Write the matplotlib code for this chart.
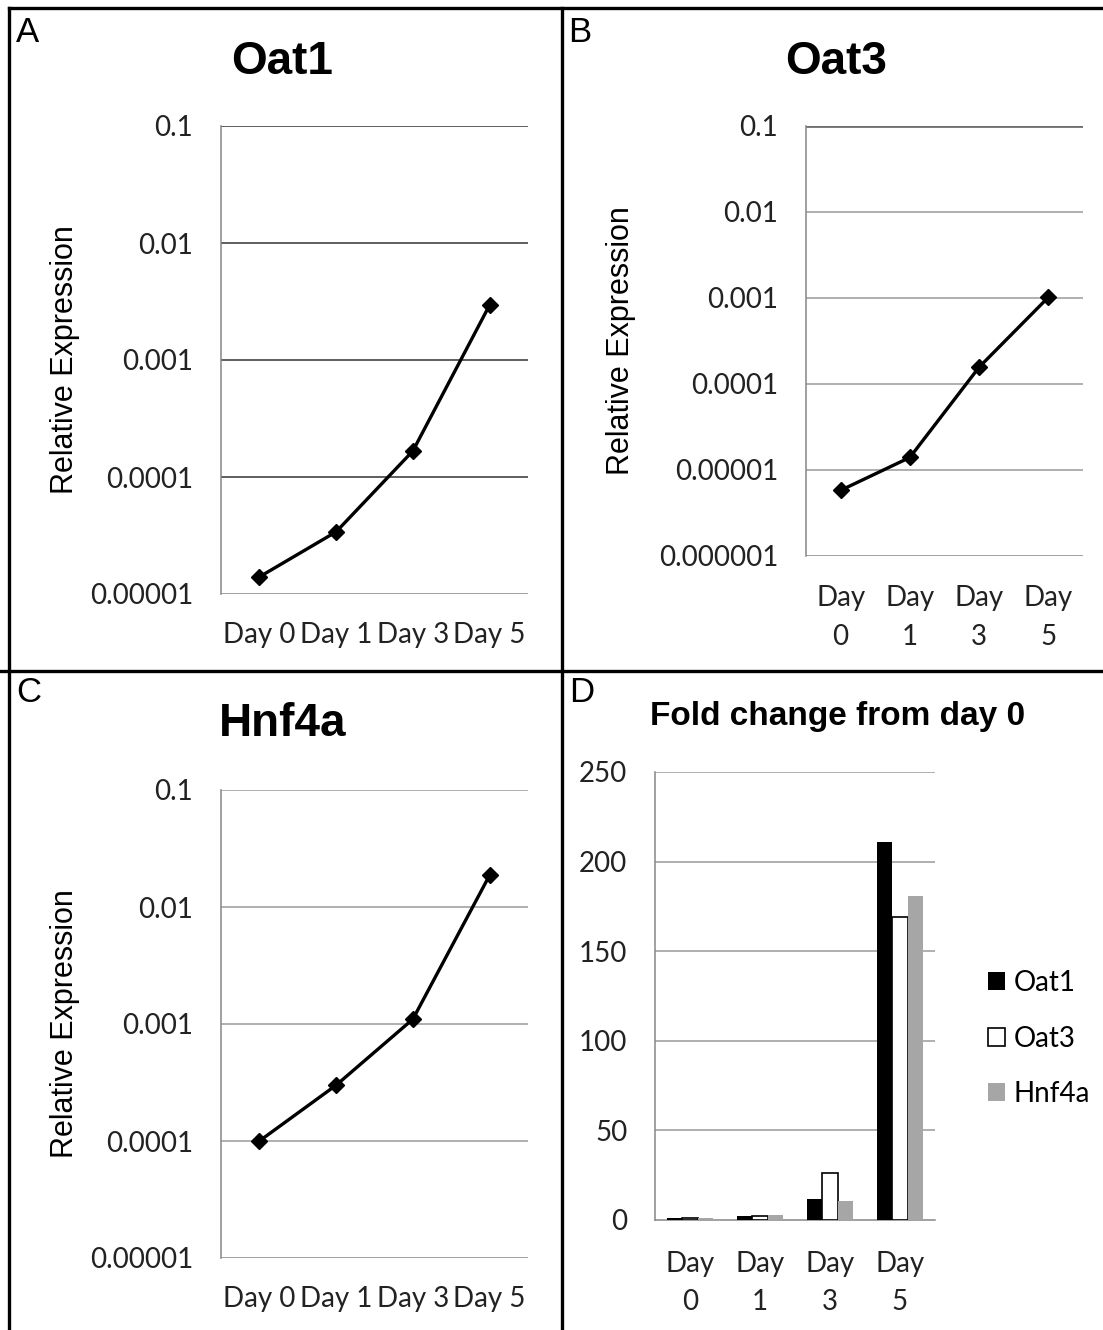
import matplotlib
matplotlib.use("Agg")
import matplotlib.pyplot as plt
from matplotlib.lines import Line2D

W, H = 1103, 1330

days = ["Day 0", "Day 1", "Day 3", "Day 5"]
days_two_line = ["Day\n0", "Day\n1", "Day\n3", "Day\n5"]

oat1 = [1.4e-5, 3.4e-5, 1.67e-4, 2.95e-3]
oat3 = [5.8e-6, 1.4e-5, 1.57e-4, 1.02e-3]
hnf4a = [1.0e-4, 3.0e-4, 1.1e-3, 1.87e-2]

fold_oat1 = [1.0, 2.4, 11.5, 211]
fold_oat3 = [1.0, 2.1, 26.5, 169]
fold_hnf4a = [1.0, 2.6, 10.5, 181]

ticks_5 = [1e-5, 1e-4, 1e-3, 1e-2, 1e-1]
labels_5 = ["0.00001", "0.0001", "0.001", "0.01", "0.1"]
ticks_6 = [1e-6] + ticks_5
labels_6 = ["0.000001"] + labels_5

tick_font = "Lato"
title_font = "Liberation Sans"
tick_size = 20


def rect(l, t, r, b):
    return [l / W, 1 - b / H, (r - l) / W, (b - t) / H]


fig = plt.figure(figsize=(W / 100, H / 100), dpi=100)


def line_panel(box, values, yt, yl, xlabels, grid_color, xpad):
    ax = fig.add_axes(rect(*box))
    ax.plot(range(4), values, color="black", lw=2.4, marker="D", ms=8.5, zorder=3)
    ax.set_yscale("log")
    ax.set_ylim(yt[0], yt[-1])
    ax.set_xlim(-0.5, 3.5)
    ax.set_yticks(yt)
    ax.set_yticklabels(yl)
    ax.minorticks_off()
    ax.set_xticks(range(4))
    ax.set_xticklabels(xlabels, linespacing=1.6)
    for t in yt[1:]:
        ax.axhline(t, color=grid_color, lw=1.1, zorder=1)
    for s in ["top", "right", "bottom"]:
        ax.spines[s].set_visible(False)
    ax.axhline(yt[0], color="#868686", lw=1.1, zorder=1)
    ax.spines["left"].set_color("#868686")
    ax.spines["left"].set_linewidth(1.1)
    ax.tick_params(axis="y", length=0, pad=20, labelsize=tick_size, colors="#222222")
    ax.tick_params(axis="x", length=0, pad=xpad, labelsize=tick_size, colors="#222222")
    for lab in ax.get_xticklabels() + ax.get_yticklabels():
        lab.set_fontfamily(tick_font)
    ax.set_ylabel("Relative Expression", fontsize=22, family=title_font)
    return ax


axA = line_panel((221, 126, 528, 594), oat1, ticks_5, labels_5, days, "#333333", 20.5)
axA.yaxis.set_label_coords(-0.46, 0.5)
axB = line_panel((806, 126, 1083, 556), oat3, ticks_6, labels_6, days_two_line, "#9a9a9a", 21)
axB.yaxis.set_label_coords(-0.615, 0.5)
axB.axhline(0.1, color="#6e6e6e", lw=2.0, zorder=2)
axC = line_panel((221, 790, 528, 1258), hnf4a, ticks_5, labels_5, days, "#9a9a9a", 20.5)
axC.yaxis.set_label_coords(-0.46, 0.5)

# panel D
axD = fig.add_axes(rect(655, 772, 935, 1220))
bw = 0.222
xs = range(4)
axD.bar([x - bw for x in xs], fold_oat1, bw, color="black", label="Oat1", zorder=3)
axD.bar(list(xs), fold_oat3, bw, color="white", edgecolor="black", lw=1.2, label="Oat3", zorder=3)
axD.bar([x + bw for x in xs], fold_hnf4a, bw, color="#a6a6a6", label="Hnf4a", zorder=3)
axD.set_xlim(-0.5, 3.5)
axD.set_ylim(0, 250)
axD.set_yticks([0, 50, 100, 150, 200, 250])
axD.set_xticks(list(xs))
axD.set_xticklabels(days_two_line, linespacing=1.6)
for t in [50, 100, 150, 200, 250]:
    axD.axhline(t, color="#9a9a9a", lw=1.1, zorder=1)
for s in ["top", "right"]:
    axD.spines[s].set_visible(False)
for s in ["left", "bottom"]:
    axD.spines[s].set_color("#868686")
    axD.spines[s].set_linewidth(1.1)
axD.tick_params(axis="y", length=0, pad=20, labelsize=tick_size, colors="#222222")
axD.tick_params(axis="x", length=0, pad=22, labelsize=tick_size, colors="#222222")
for lab in axD.get_xticklabels() + axD.get_yticklabels():
    lab.set_fontfamily(tick_font)
leg = axD.legend(loc="center left", bbox_to_anchor=(1.1, 0.405), frameon=False,
                 prop={"family": tick_font, "size": tick_size}, handlelength=0.62,
                 handleheight=0.62, handletextpad=0.3, labelspacing=1.06)

# titles and panel letters
fig.text(282 / W, 1 - 62 / H, "Oat1", ha="center", va="center", fontsize=33,
         fontweight="bold", family=title_font)
fig.text(836 / W, 1 - 62 / H, "Oat3", ha="center", va="center", fontsize=33,
         fontweight="bold", family=title_font)
fig.text(283 / W, 1 - 724 / H, "Hnf4a", ha="center", va="center", fontsize=33,
         fontweight="bold", family=title_font)
fig.text(838 / W, 1 - 717 / H, "Fold change from day 0", ha="center", va="center",
         fontsize=24, fontweight="bold", family=title_font)
for letter, x, y in [("A", 28, 33), ("B", 580, 33), ("C", 29, 693), ("D", 582, 693)]:
    fig.text(x / W, 1 - y / H, letter, ha="center", va="center", fontsize=25,
             family=title_font)

# panel frame
frame = dict(color="black", lw=2.4, transform=fig.transFigure)
fig.add_artist(Line2D([9 / W, 1], [1 - 8 / H, 1 - 8 / H], **frame))
fig.add_artist(Line2D([9 / W, 9 / W], [0, 1 - 8 / H], **frame))
fig.add_artist(Line2D([562 / W, 562 / W], [0, 1 - 8 / H], **frame))
fig.add_artist(Line2D([0, 1], [1 - 671 / H, 1 - 671 / H], **frame))

fig.savefig("out.png", dpi=100)
